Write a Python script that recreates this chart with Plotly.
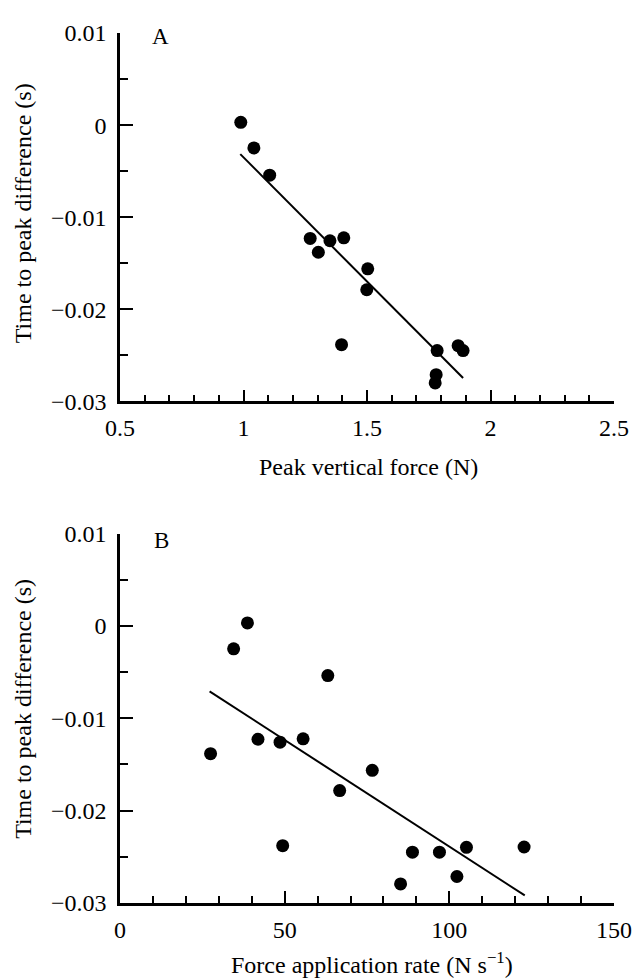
import plotly.graph_objects as go

# Panel A: peak vertical force (N) vs time to peak difference (s)
force_a = [0.989, 1.042, 1.106, 1.270, 1.303, 1.350, 1.406, 1.397, 1.503, 1.499,
           1.784, 1.780, 1.776, 1.869, 1.889]
tpd_a = [0.0003, -0.00248, -0.00543, -0.0123, -0.0138, -0.01255, -0.01223, -0.02383,
         -0.0156, -0.01787, -0.02447, -0.02709, -0.02798, -0.02394, -0.02447]
fit_a_x = [0.987, 1.889]
fit_a_y = [-0.00315, -0.02745]

# Panel B: force application rate (N s^-1) vs time to peak difference (s)
rate_b = [27.5, 34.5, 38.7, 41.9, 48.6, 49.4, 55.6, 63.1, 66.7, 76.6,
          85.2, 88.8, 97.0, 102.3, 105.2, 122.7]
tpd_b = [-0.01383, -0.00248, 0.00032, -0.01227, -0.01259, -0.02379, -0.01223, -0.00538,
         -0.01783, -0.01564, -0.02794, -0.0245, -0.0245, -0.02713, -0.02397, -0.02394]
fit_b_x = [27.2, 122.9]
fit_b_y = [-0.00709, -0.02918]

FONT = "Liberation Serif"
OFF = 8  # browser default body margin
W, H = 644 - OFF, 980 - OFF
ML, MR, MT, MB = 120 - OFF, 20, 20 - OFF, 77
PW, PH = W - ML - MR, H - MT - MB


def px_x(x):
    return (x - OFF - ML) / PW


def px_y(y):
    return (H - MB - (y - OFF)) / PH


fig = go.Figure()
fig.add_trace(go.Scatter(x=force_a, y=tpd_a, mode="markers",
                         marker=dict(color="black", size=13), xaxis="x", yaxis="y"))
fig.add_trace(go.Scatter(x=fit_a_x, y=fit_a_y, mode="lines",
                         line=dict(color="black", width=2), xaxis="x", yaxis="y"))
fig.add_trace(go.Scatter(x=rate_b, y=tpd_b, mode="markers",
                         marker=dict(color="black", size=13), xaxis="x2", yaxis="y2"))
fig.add_trace(go.Scatter(x=fit_b_x, y=fit_b_y, mode="lines",
                         line=dict(color="black", width=2), xaxis="x2", yaxis="y2"))

axis_common = dict(showline=True, linecolor="black", linewidth=2.5, showgrid=False,
                   zeroline=False, ticks="inside", tickcolor="black", tickwidth=2,
                   tickfont=dict(family=FONT, size=24, color="black"))

yA = [px_y(394), 1.0]
yB = [0.0, px_y(528)]

fig.update_layout(
    width=W, height=H, showlegend=False,
    margin=dict(l=ML, r=MR, t=MT, b=MB),
    plot_bgcolor="white", paper_bgcolor="white",
    font=dict(family=FONT, color="black"),
    xaxis=dict(**axis_common, domain=[0, 1], anchor="y", range=[0.5, 2.5], dtick=0.5,
               tick0=0.5, ticklen=12, ticklabelstandoff=3,
               minor=dict(ticks="inside", dtick=0.1, tick0=0.5, ticklen=7,
                          tickwidth=2, tickcolor="black")),
    yaxis=dict(**axis_common, domain=yA, anchor="x", range=[-0.03, 0.01], dtick=0.01,
               tick0=0, ticklen=13, ticklabelstandoff=6,
               minor=dict(ticks="inside", dtick=0.005, ticklen=8,
                          tickwidth=2, tickcolor="black")),
    xaxis2=dict(**axis_common, domain=[0, 1], anchor="y2", range=[0, 150], dtick=50,
                tick0=0, ticklen=12, ticklabelstandoff=3,
                minor=dict(ticks="inside", dtick=10, ticklen=7,
                           tickwidth=2, tickcolor="black")),
    yaxis2=dict(**axis_common, domain=yB, anchor="x2", range=[-0.03, 0.01], dtick=0.01,
                tick0=0, ticklen=13, ticklabelstandoff=6,
                minor=dict(ticks="inside", dtick=0.005, ticklen=8,
                           tickwidth=2, tickcolor="black")),
)

ann_font = dict(family=FONT, size=23, color="black")
title_font = dict(family=FONT, size=24, color="black")
fig.add_annotation(text="A", x=px_x(161), y=px_y(24), xref="paper", yref="paper",
                   showarrow=False, font=ann_font, xanchor="center", yanchor="middle")
fig.add_annotation(text="B", x=px_x(162), y=px_y(535), xref="paper", yref="paper",
                   showarrow=False, font=ann_font, xanchor="center", yanchor="middle")
fig.add_annotation(text="Peak vertical force (N)", x=px_x(374), y=px_y(460),
                   xref="paper", yref="paper", showarrow=False, font=title_font,
                   xanchor="center", yanchor="middle")
fig.add_annotation(text="Force application rate (N s<sup>−1</sup>)", x=px_x(377), y=px_y(964),
                   xref="paper", yref="paper", showarrow=False, font=title_font,
                   xanchor="center", yanchor="middle")
fig.add_annotation(text="Time to peak difference (s)", x=px_x(21), y=px_y(203),
                   xref="paper", yref="paper", showarrow=False, font=title_font,
                   textangle=-90, xanchor="center", yanchor="middle")
fig.add_annotation(text="Time to peak difference (s)", x=px_x(21), y=px_y(706),
                   xref="paper", yref="paper", showarrow=False, font=title_font,
                   textangle=-90, xanchor="center", yanchor="middle")

fig.write_html("out.html")
